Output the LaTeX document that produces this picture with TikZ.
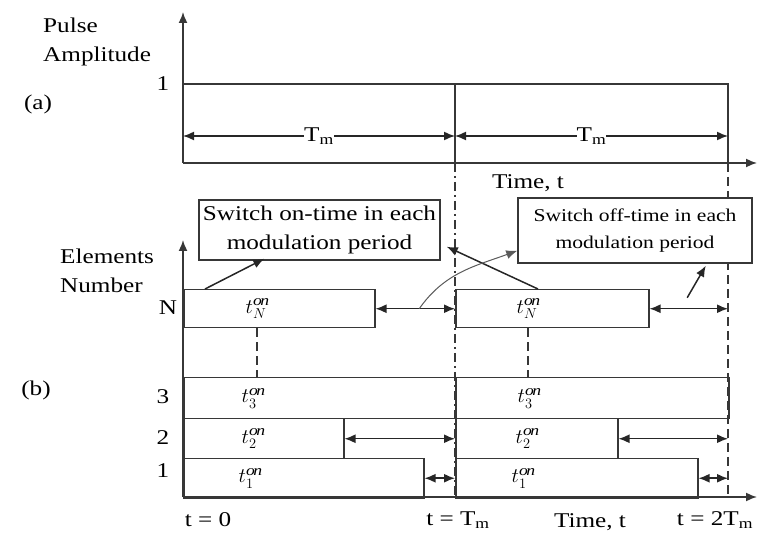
\documentclass[tikz,border=0pt]{standalone}
\usepackage{fontspec}
\setmainfont[FakeStretch=1.2]{Liberation Serif}
\usetikzlibrary{arrows.meta, positioning}
\definecolor{lineColor}{RGB}{55, 55, 55}
\definecolor{curveColor}{RGB}{90, 90, 90}
\tikzset{
    axis_line/.style={
        line width=1.6pt,
        draw=lineColor,
        -{Latex[length=11pt, width=9pt]}
    },
    plot_line/.style={
        line width=1.5pt,
        draw=lineColor
    },
    bar_box/.style={
        plot_line,
        rectangle,
        inner sep=0pt,
        anchor=north west
    },
    dim_arrow/.style={
        line width=1.5pt,
        draw=black!85,
        {Latex[length=11pt, width=9pt]}-{Latex[length=11pt, width=9pt]}
    },
    note_box/.style={
        rectangle,
        draw=lineColor,
        line width=1.5pt,
        fill=white,
        align=center,
        inner sep=0pt
    },
    note_arrow/.style={
        line width=1.5pt,
        draw=black!85,
        -{Latex[length=11pt, width=9pt]}
    },
    lbl/.style={
        font=\fontsize{21}{29}\selectfont,
        inner sep=0pt
    },
    on_lbl/.style={
        font=\fontsize{21}{22}\selectfont,
        inner sep=0pt
    },
    period_mark/.style={
        line width=1.4pt,
        draw=lineColor,
        dash pattern=on 9pt off 4pt on 2pt off 4pt
    },
    end_mark/.style={
        line width=1.4pt,
        draw=lineColor,
        dash pattern=on 9pt off 5pt
    }
}

\begin{document}
\begin{tikzpicture}[x=1pt, y=-1pt]
    \useasboundingbox (0,0) rectangle (758,534);

    % (a) pulse amplitude
    \coordinate (oA) at (183,163);
    \coordinate (tMid) at (455,163);
    \coordinate (tEnd) at (728,163);
    \draw[plot_line] (183,84) -- (728,84) -- (tEnd);
    \draw[plot_line] (455,84) -- (tMid);
    \draw[axis_line] (oA) -- (183,12);
    \draw[axis_line] (oA) -- (757,163);
    \draw[dim_arrow] (183,136) -- node[fill=white, inner xsep=20pt, lbl] {T\textsubscript{m}} (455,136);
    \draw[dim_arrow] (455,136) -- node[fill=white, inner xsep=20pt, lbl] {T\textsubscript{m}} (728,136);

    \node[lbl, anchor=west, align=left] (ampl) at (43,42) {Pulse\\ Amplitude};
    \node[lbl] (one) at (163,84) {1};
    \node[lbl] (partA) at (38,104) {(a)};
    \node[lbl] (timeA) at (528,183) {Time, t};

    % (b) element switching
    \coordinate (oB) at (183,497);
    \draw[period_mark] (tMid) -- (455,497);
    \draw[end_mark] (tEnd) -- (728,497);

    \node[bar_box, minimum width=191pt, minimum height=38pt] (nA) at (183,289) {};
    \node[bar_box, minimum width=193pt, minimum height=38pt] (nB) at (455,289) {};
    \node[bar_box, minimum width=272pt, minimum height=41pt] (r3A) at (183,377) {};
    \node[bar_box, minimum width=273pt, minimum height=41pt] (r3B) at (455,377) {};
    \node[bar_box, minimum width=160pt, minimum height=40pt] (r2A) at (183,418) {};
    \node[bar_box, minimum width=162pt, minimum height=40pt] (r2B) at (455,418) {};
    \node[bar_box, minimum width=240pt, minimum height=39pt] (r1A) at (183,458) {};
    \node[bar_box, minimum width=242pt, minimum height=39pt] (r1B) at (455,458) {};

    \node[on_lbl] (lNA) at ([xshift=74pt]nA.west) {$t^{\mathit{on}}_{N}$};
    \node[on_lbl] (lNB) at ([xshift=73pt]nB.west) {$t^{\mathit{on}}_{N}$};
    \node[on_lbl] (l3A) at ([xshift=70pt]r3A.west) {$t^{\mathit{on}}_{3}$};
    \node[on_lbl] (l3B) at ([xshift=74pt]r3B.west) {$t^{\mathit{on}}_{3}$};
    \node[on_lbl] (l2A) at ([xshift=70pt]r2A.west) {$t^{\mathit{on}}_{2}$};
    \node[on_lbl] (l2B) at ([xshift=72pt]r2B.west) {$t^{\mathit{on}}_{2}$};
    \node[on_lbl] (l1A) at ([xshift=67pt]r1A.west) {$t^{\mathit{on}}_{1}$};
    \node[on_lbl] (l1B) at ([xshift=68pt]r1B.west) {$t^{\mathit{on}}_{1}$};

    \draw[end_mark] (lNA.south |- nA.south) -- (lNA.south |- r3A.north);
    \draw[end_mark] (lNB.south |- nB.south) -- (lNB.south |- r3B.north);

    \draw[axis_line] (oB) -- (183,240);
    \draw[axis_line] (oB) -- (757,497);

    \draw[dim_arrow] (nA.east) -- coordinate[pos=0.55] (gapN) (nB.west);
    \draw[dim_arrow] (nB.east) -- coordinate[pos=0.48] (gapR) (nB.east -| tEnd);
    \draw[dim_arrow] (r2A.east) -- (r2B.west);
    \draw[dim_arrow] (r2B.east) -- (r2B.east -| tEnd);
    \draw[dim_arrow] (r1A.east) -- (r1B.west);
    \draw[dim_arrow] (r1B.east) -- (r1B.east -| tEnd);

    \node[lbl, anchor=west, align=left] (elem) at (60,271) {Elements\\ Number};
    \node[lbl] (rowN) at (168,308) {N};
    \node[lbl] (row3) at (163,397) {3};
    \node[lbl] (row2) at (163,438) {2};
    \node[lbl] (row1) at (163,471) {1};
    \node[lbl] (partB) at (36,390) {(b)};

    \node[lbl] (tZero) at (208,520) {t = 0};
    \node[lbl] (tOne) at (458,520) {t = T\textsubscript{m}};
    \node[lbl] (timeB) at (590,522) {Time, t};
    \node[lbl] (tTwo) at (715,520) {t = 2T\textsubscript{m}};

    % callouts
    \node[note_box, minimum width=241pt, minimum height=60pt, font=\fontsize{21}{29}\selectfont]
        (onNote) at (319.5,230) {Switch on-time in each\\ modulation period};
    \node[note_box, minimum width=234pt, minimum height=65pt, font=\fontsize{18}{27}\selectfont]
        (offNote) at (635,230.5) {Switch off-time in each\\ modulation period};

    \draw[note_arrow] ([xshift=22pt]nA.north west) -- ([xshift=66pt, yshift=2pt]onNote.south west);
    \draw[note_arrow] ([xshift=83pt]nB.north west) -- ([xshift=6pt, yshift=14pt]onNote.south east);
    \draw[line width=1pt, draw=curveColor, -{Latex[length=11pt, width=9pt]}]
        (gapN) to[out=55, in=200] ([yshift=13pt]offNote.south west);
    \draw[note_arrow] ([yshift=11pt]gapR) -- ([xshift=-47pt, yshift=-2pt]offNote.south east);
\end{tikzpicture}
\end{document}
